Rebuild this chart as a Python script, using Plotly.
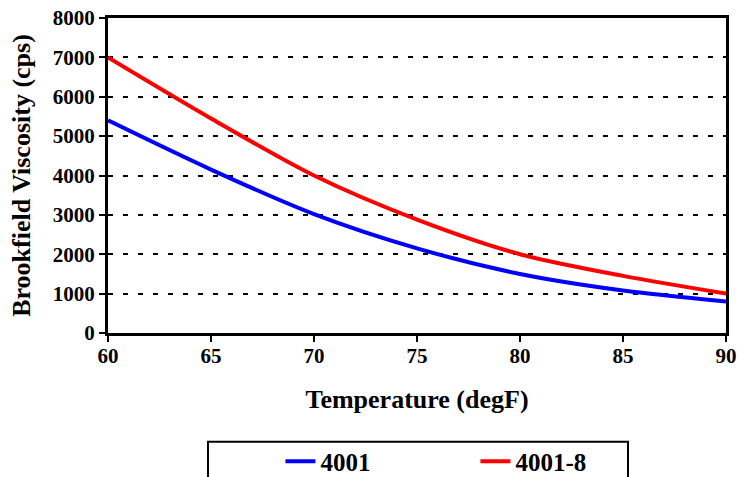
import plotly.graph_objects as go

temperature = [60, 65, 70, 75, 80, 85, 90]
visc_4001 = [5400, 4150, 3020, 2150, 1500, 1080, 800]
visc_4001_8 = [7000, 5450, 4000, 2880, 2000, 1450, 1000]
series_names = ["4001", "4001-8"]
x_ticks = [60, 65, 70, 75, 80, 85, 90]
y_ticks = [0, 1000, 2000, 3000, 4000, 5000, 6000, 7000, 8000]

FONT = "Liberation Serif"

fig = go.Figure()
fig.add_trace(go.Scatter(x=temperature, y=visc_4001, name=series_names[0], mode="lines",
                         line=dict(color="#0000FF", width=4, shape="spline", smoothing=0.8)))
fig.add_trace(go.Scatter(x=temperature, y=visc_4001_8, name=series_names[1], mode="lines",
                         line=dict(color="#FF0000", width=4, shape="spline", smoothing=0.8)))

fig.update_layout(
    width=738, height=477,
    margin=dict(l=108, r=12, t=18, b=144, autoexpand=False),
    paper_bgcolor="white", plot_bgcolor="white",
    font=dict(family=FONT, color="black", weight="bold"),
    showlegend=True,
    legend=dict(orientation="h", x=0.279, xanchor="left", y=-0.335, yanchor="top",
                font=dict(family=FONT, size=25, color="black", weight="bold"),
                entrywidth=150, bgcolor="rgba(0,0,0,0)", borderwidth=0),
    shapes=[dict(type="rect", xref="paper", yref="paper",
                 x0=0.1618, x1=0.8414, y0=-0.345, y1=-0.52,
                 line=dict(color="black", width=2), fillcolor="rgba(0,0,0,0)")],
)

fig.update_xaxes(
    range=[60, 90], tickvals=x_ticks,
    showgrid=False, zeroline=False, automargin=False,
    showline=True, linecolor="black", linewidth=3, mirror=True,
    ticks="outside", ticklen=6, tickwidth=2, tickcolor="black",
    ticklabelstandoff=-4,
    tickfont=dict(family=FONT, size=21, color="black", weight="bold"),
    title=dict(text="Temperature (degF)", font=dict(family=FONT, size=26, color="black", weight="bold"), standoff=23),
)
fig.update_yaxes(
    range=[0, 8000], tickvals=y_ticks,
    showgrid=True, gridcolor="black", gridwidth=2, griddash="5px,10px",
    zeroline=False, automargin=False,
    showline=True, linecolor="black", linewidth=3, mirror=True,
    ticks="outside", ticklen=6, tickwidth=2, tickcolor="black",
    tickfont=dict(family=FONT, size=21, color="black", weight="bold"),
    title=dict(text="Brookfield Viscosity (cps)", font=dict(family=FONT, size=26, color="black", weight="bold"), standoff=15),
)

fig.write_html("out.html")
